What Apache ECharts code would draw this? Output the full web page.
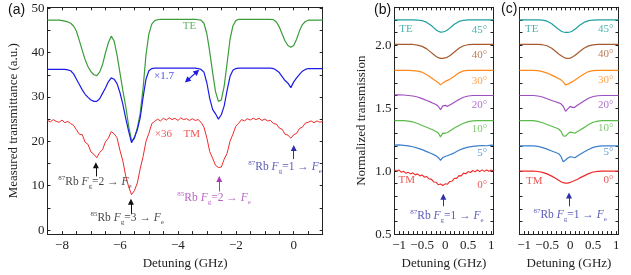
<!DOCTYPE html>
<html><head><meta charset="utf-8">
<script src="https://cdn.jsdelivr.net/npm/echarts@6/dist/echarts.min.js"></script>
<style>html,body{margin:0;padding:0;background:#fff}#c{width:631px;height:275px}</style>
</head><body><div id="c"></div>
<script>
// ---------- Panel (a) data ----------
const aX = [-8.5,-8.4,-8.3,-8.2,-8.1,-8.0,-7.9,-7.8,-7.7,-7.6,
 -7.5,-7.4,-7.3,-7.2,-7.1,-7.0,-6.9,-6.8,-6.7,-6.6,
 -6.5,-6.4,-6.3,-6.2,-6.1,-6.0,-5.9,-5.8,-5.7,-5.6,
 -5.5,-5.4,-5.3,-5.2,-5.1,-5.0,-4.9,-4.8,-4.7,-4.6,
 -4.5,-4.4,-4.3,-4.2,-4.1,-4.0,-3.9,-3.8,-3.7,-3.6,
 -3.5,-3.4,-3.3,-3.2,-3.1,-3.0,-2.9,-2.8,-2.7,-2.6,
 -2.5,-2.4,-2.3,-2.2,-2.1,-2.0,-1.9,-1.8,-1.7,-1.6,
 -1.5,-1.4,-1.3,-1.2,-1.1,-1.0,-0.9,-0.8,-0.7,-0.6,
 -0.5,-0.4,-0.3,-0.2,-0.1,0.0,0.1,0.2,0.3,0.4,
 0.5,0.6,0.7,0.8,0.9,1.0];
const aTE = [47.3,47.3,47.3,47.3,47.3,47.2,47.1,46.9,46.6,46.0,
 44.8,42.7,40.5,38.4,36.8,35.7,35.0,34.8,35.6,37.3,
 39.9,42.2,43.7,42.6,39.5,35.5,31.5,27.9,23.5,20.2,
 20.6,23.0,26.3,32.0,39.5,44.2,46.4,47.2,47.4,47.5,
 47.5,47.5,47.5,47.5,47.5,47.5,47.5,47.5,47.5,47.5,
 47.5,47.5,47.4,47.3,46.6,44.3,40.2,35.5,31.2,29.0,
 29.3,32.5,37.6,42.9,46.0,47.2,47.5,47.5,47.5,47.5,
 47.5,47.5,47.5,47.5,47.5,47.5,47.5,47.5,47.4,46.9,
 45.8,44.2,42.6,41.6,41.2,41.6,43.0,44.9,46.3,47.0,
 47.3,47.3,47.3,47.3,47.3,47.3];
const aMid = [36.2,36.2,36.2,36.2,36.2,36.2,36.2,36.1,35.9,35.2,
 34.0,32.8,31.6,30.6,29.9,29.3,29.0,29.0,29.6,30.8,
 32.0,33.4,34.3,34.0,33.0,31.0,28.4,25.2,22.3,19.7,
 20.9,22.6,25.3,29.9,34.0,35.9,36.4,36.5,36.5,36.5,
 36.5,36.5,36.5,36.5,36.5,36.5,36.5,36.5,36.5,36.5,
 36.5,36.5,36.4,36.2,35.6,33.2,29.7,27.2,26.2,25.0,
 26.0,28.0,31.5,34.6,36.0,36.4,36.5,36.5,36.5,36.5,
 36.5,36.5,36.5,36.5,36.5,36.5,36.5,36.5,36.4,36.0,
 35.5,34.6,33.7,33.1,32.1,33.4,34.3,35.1,35.8,36.2,
 36.4,36.4,36.4,36.4,36.4,36.4];
const aTM = [24.7,24.4,24.9,24.5,24.3,24.8,24.2,24.5,24.0,23.6,
 22.6,21.6,21.5,19.8,19.3,17.6,17.1,16.3,17.5,18.1,
 19.9,20.7,22.2,21.7,20.8,18.0,15.6,12.2,9.8,8.0,
 8.9,10.6,13.8,16.6,20.0,21.8,24.0,24.5,25.0,24.6,
 25.2,24.8,25.3,24.9,25.2,24.7,25.3,24.9,25.1,24.7,
 25.1,24.7,24.9,24.3,23.2,20.8,17.7,16.2,14.6,14.1,
 14.2,16.0,17.3,20.0,21.6,23.4,24.1,24.9,24.6,25.1,
 24.8,25.2,24.9,25.2,24.7,25.0,24.6,24.7,24.0,23.9,
 23.0,22.7,21.6,21.4,20.7,21.5,21.8,22.9,23.2,24.1,
 24.3,24.6,24.2,24.6,24.3,24.5];
const aXTicks = [-8.5,-8,-7.5,-7,-6.5,-6,-5.5,-5,-4.5,-4,-3.5,-3,-2.5,-2,-1.5,-1,-0.5,0,0.5,1];
const aXLabels = [-8,-6,-4,-2,0];
const aYTicks = [0,5,10,15,20,25,30,35,40,45,50];
const aYLabels = [0,10,20,30,40,50];

// ---------- Panels (b),(c) data ----------
const bX = [-1.1,-1.0,-0.9,-0.8,-0.7,-0.6,-0.5,-0.4,-0.3,-0.25,-0.2,-0.15,-0.1,-0.05,0,0.05,0.1,0.15,0.2,0.3,0.4,0.5,0.6,0.7,0.8,0.9,1.0,1.05];
const b45 = [2.200,2.200,2.200,2.200,2.200,2.199,2.195,2.180,2.155,2.139,2.122,2.110,2.103,2.104,2.110,2.120,2.135,2.150,2.165,2.188,2.197,2.200,2.200,2.200,2.200,2.200,2.200,2.200];
const b40 = [2.005,2.005,2.005,2.005,2.005,2.000,1.990,1.970,1.940,1.925,1.911,1.900,1.895,1.895,1.898,1.905,1.915,1.930,1.945,1.975,1.995,2.003,2.005,2.005,2.005,2.005,2.005,2.005];
const b30 = [1.800,1.800,1.800,1.800,1.798,1.794,1.785,1.765,1.740,1.727,1.715,1.702,1.684,1.700,1.712,1.720,1.728,1.740,1.752,1.780,1.795,1.800,1.800,1.800,1.800,1.800,1.800,1.800];
const b20 = [1.605,1.605,1.604,1.600,1.596,1.588,1.575,1.560,1.545,1.537,1.528,1.515,1.487,1.518,1.522,1.514,1.524,1.534,1.546,1.568,1.586,1.596,1.600,1.600,1.600,1.600,1.600,1.600];
const b10 = [1.400,1.400,1.400,1.396,1.390,1.378,1.362,1.348,1.332,1.324,1.314,1.302,1.272,1.302,1.300,1.306,1.318,1.330,1.342,1.362,1.380,1.393,1.398,1.400,1.400,1.400,1.400,1.400];
const b5 = [1.206,1.208,1.204,1.200,1.193,1.182,1.170,1.155,1.140,1.131,1.121,1.108,1.085,1.108,1.116,1.122,1.130,1.137,1.146,1.165,1.180,1.190,1.196,1.200,1.203,1.201,1.206,1.204];
const bX0 = [-1.1,-1.05,-1.0,-0.95,-0.9,-0.85,-0.8,-0.75,-0.7,-0.65,-0.6,-0.55,-0.5,-0.45,-0.4,-0.35,-0.3,-0.25,-0.2,-0.15,-0.1,-0.05,0,0.05,0.1,0.15,0.2,0.25,0.3,0.35,0.4,0.45,0.5,0.55,0.6,0.65,0.7,0.75,0.8,0.85,0.9,0.95,1.0,1.05];
const b0 = [1.012,1.000,1.008,0.990,0.998,0.982,0.990,0.978,0.986,0.970,0.978,0.962,0.969,0.952,0.957,0.938,0.936,0.914,0.912,0.892,0.898,0.886,0.899,0.896,0.918,0.920,0.943,0.942,0.964,0.962,0.984,0.979,0.996,0.989,1.005,0.994,1.009,0.996,1.010,0.998,1.009,0.999,1.008,1.000];
const c45 = [2.200,2.200,2.200,2.200,2.200,2.198,2.190,2.170,2.140,2.125,2.112,2.104,2.101,2.101,2.104,2.112,2.125,2.140,2.155,2.180,2.194,2.199,2.200,2.200,2.200,2.200,2.200,2.200];
const c40 = [2.005,2.005,2.005,2.005,2.005,2.003,1.995,1.975,1.945,1.930,1.917,1.905,1.897,1.895,1.897,1.905,1.917,1.932,1.947,1.975,1.994,2.002,2.005,2.005,2.005,2.005,2.005,2.005];
const c30 = [1.800,1.800,1.800,1.800,1.797,1.790,1.778,1.762,1.744,1.735,1.724,1.708,1.684,1.690,1.700,1.710,1.722,1.734,1.746,1.770,1.790,1.798,1.800,1.800,1.800,1.800,1.800,1.800];
const c20 = [1.600,1.600,1.600,1.600,1.596,1.588,1.574,1.560,1.548,1.542,1.534,1.515,1.474,1.494,1.514,1.506,1.506,1.520,1.532,1.556,1.578,1.592,1.598,1.600,1.600,1.600,1.600,1.600];
const c10 = [1.400,1.400,1.400,1.400,1.395,1.384,1.370,1.356,1.342,1.334,1.316,1.280,1.278,1.296,1.310,1.306,1.300,1.312,1.322,1.345,1.370,1.388,1.396,1.400,1.400,1.400,1.400,1.400];
const c5 = [1.200,1.200,1.200,1.200,1.196,1.186,1.174,1.160,1.146,1.138,1.116,1.074,1.088,1.104,1.113,1.112,1.106,1.118,1.130,1.152,1.172,1.188,1.196,1.200,1.200,1.200,1.200,1.200];
const c0 = [1.000,1.000,1.000,1.000,0.997,0.990,0.978,0.960,0.940,0.928,0.916,0.908,0.904,0.905,0.910,0.917,0.925,0.934,0.944,0.962,0.980,0.993,0.998,1.000,1.000,1.000,1.000,1.000];
const bXTicks = [-1.1,-1.0,-0.9,-0.8,-0.7,-0.6,-0.5,-0.4,-0.3,-0.2,-0.1,0,0.1,0.2,0.3,0.4,0.5,0.6,0.7,0.8,0.9,1.0];
const bXLabels = [-1,-0.5,0,0.5,1];
const bYTicks = [0.5,0.6,0.7,0.8,0.9,1.0,1.1,1.2,1.3,1.4,1.5,1.6,1.7,1.8,1.9,2.0,2.1,2.2,2.3];
const bYLabels = [0.5,1.0,1.5,2.0];
const angleLabels = ['45°','40°','30°','20°','10°','5°','0°'];

// ---------- styling ----------
const SERIF = '"Liberation Serif","DejaVu Serif",serif';
const SANS = '"Liberation Sans",Arial,sans-serif';
const AX = '#222';
const C = {green:'#3a9d3a', blue:'#1c1ce6', red:'#ee2a2a', mag:'#a83cb4', navy:'#2f2fa8', black:'#111',
  teal:'#1f9e9e', brown:'#a65a2e', orange:'#ff8a1c', purple:'#9e4fbf', lgreen:'#5bbb4a', lblue:'#3b7fca'};
const minus = s => String(s).replace('-', '\u2212');

function pts(xs, ys){ return xs.map((x,i)=>[x, ys[i]]); }
function axisBase(gi, min, max, pos){
  return {type:'value', gridIndex:gi, min, max, position:pos, splitLine:{show:false},
    axisLine:{show:true, onZero:false, lineStyle:{color:AX, width:1}},
    axisTick:{show:true, inside:true, length:3, lineStyle:{color:AX}},
    axisLabel:{show:false}};
}
function xBottom(gi, min, max, ticks, labels){
  const a = axisBase(gi, min, max, 'bottom');
  a.axisTick.customValues = ticks;
  a.axisLabel = {show:true, customValues:labels, margin:5, fontFamily:SERIF, fontSize:13, color:AX, formatter:v=>minus(v)};
  a.name = 'Detuning (GHz)'; a.nameLocation = 'middle'; a.nameGap = 20;
  a.nameTextStyle = {fontFamily:SERIF, fontSize:13, color:AX};
  return a;
}
function xTop(gi, min, max, ticks){ const a = axisBase(gi,min,max,'top'); a.axisTick.customValues = ticks; return a; }
function yAx(gi, min, max, ticks, labels, pos, name, gap, fmt){
  const a = axisBase(gi, min, max, pos);
  a.axisTick.customValues = ticks;
  if (labels){
    a.axisLabel = {show:true, customValues:labels, margin:3, fontFamily:SERIF, fontSize:13, color:AX, formatter:fmt};
  }
  if (name){ a.name = name; a.nameLocation='middle'; a.nameGap=gap; a.nameTextStyle={fontFamily:SERIF, fontSize:13, color:AX}; }
  return a;
}
function line(xi, xs, ys, color, w){
  return {type:'line', xAxisIndex:xi, yAxisIndex:xi, data:pts(xs,ys), showSymbol:false, symbol:'none',
    lineStyle:{color, width:w||1.2}, itemStyle:{color}, silent:true, animation:false};
}
function rich(color, fs){
  return {
    n:{fontFamily:SERIF, fontSize:fs, color, lineHeight:fs+3},
    s:{fontFamily:SERIF, fontSize:7, color, verticalAlign:'top'},
    i:{fontFamily:SERIF, fontSize:fs, fontStyle:'italic', color, lineHeight:fs+3},
    b:{fontFamily:SERIF, fontSize:7, color, verticalAlign:'bottom'}
  };
}
const trans = (iso, fg) => `{s|${iso}}{n|Rb }{i|F}{b|g}{n|=${fg} \u2192 }{i|F}{b|e}`;
function txt(x, y, text, color, align, fs){
  return {value:[x,y], label:{formatter:text, color, align:align||'center', fontSize:fs||11, fontFamily:SERIF}};
}
function rtxt(x, y, text, color){
  return {value:[x,y], label:{formatter:text, rich:rich(color,11.5), align:'center'}};
}
function arrow(x, y1, y2, color){
  return [{coord:[x,y1], symbol:'none'}, {coord:[x,y2], symbol:'triangle', lineStyle:{color, width:1}, itemStyle:{color}}];
}
function annot(xi, items, arrows){
  return {type:'scatter', xAxisIndex:xi, yAxisIndex:xi, symbolSize:0, silent:true, animation:false, z:5,
    label:{show:true, position:'inside', fontFamily:SERIF, fontSize:11},
    data:items,
    markLine:{silent:true, animation:false, symbol:['none','triangle'], symbolSize:6, label:{show:false},
      lineStyle:{type:'solid', width:1}, data:arrows}};
}

const gridA = {left:47.5, top:7.3, width:275.2, height:228.2};
const gridB = {left:394.5, top:7.3, width:99, height:228.2};
const gridC = {left:519.5, top:7.3, width:99, height:228.2};

const yaFmt = v => String(v);
const ybFmt = v => v.toFixed(1);

const option = {
  animation:false,
  grid:[gridA, gridB, gridC],
  xAxis:[
    xBottom(0,-8.5,1,aXTicks,aXLabels), xTop(0,-8.5,1,aXTicks),
    xBottom(1,-1.1,1.05,bXTicks,bXLabels), xTop(1,-1.1,1.05,bXTicks),
    xBottom(2,-1.1,1.05,bXTicks,bXLabels), xTop(2,-1.1,1.05,bXTicks)
  ],
  yAxis:[
    yAx(0,-0.9,50.2,aYTicks,aYLabels,'left','Measured transmittance (a.u.)',27,yaFmt),
    yAx(0,-0.9,50.2,aYTicks,null,'right'),
    yAx(1,0.5,2.3,bYTicks,bYLabels,'left','Normalized transmission',26,ybFmt),
    yAx(1,0.5,2.3,bYTicks,null,'right'),
    yAx(2,0.5,2.3,bYTicks,null,'left'),
    yAx(2,0.5,2.3,bYTicks,null,'right')
  ],
  series:[
    line(0, aX, aTE, C.green), line(0, aX, aMid, C.blue), line(0, aX, aTM, C.red, 1),
    line(2, bX, b45, C.teal), line(2, bX, b40, C.brown), line(2, bX, b30, C.orange),
    line(2, bX, b20, C.purple), line(2, bX, b10, C.lgreen), line(2, bX, b5, C.lblue), line(2, bX0, b0, C.red, 1.1),
    line(4, bX, c45, C.teal), line(4, bX, c40, C.brown), line(4, bX, c30, C.orange),
    line(4, bX, c20, C.purple), line(4, bX, c10, C.lgreen), line(4, bX, c5, C.lblue), line(4, bX, c0, C.red),
    annot(0, [
      txt(-3.6,45.9,'TE',C.green), txt(-4.48,34.8,'\u00d71.7',C.blue), txt(-4.5,21.6,'\u00d736',C.red), txt(-3.52,21.6,'TM',C.red),
      rtxt(-6.86,10.8,trans('87',2),C.black), rtxt(-5.75,2.7,trans('85',3),C.black),
      rtxt(-2.75,7.2,trans('85',2),C.mag), rtxt(-0.3,14.15,trans('87',1),C.navy)
    ], [
      arrow(-6.83,12.1,14.6,C.black), arrow(-5.62,3.7,6.4,C.black), arrow(-2.57,8.7,11.5,C.mag), arrow(0.0,16.0,18.5,C.navy),
      [{coord:[-3.68,33.7], symbol:'triangle'}, {coord:[-3.34,35.7], symbol:'triangle', lineStyle:{color:C.blue,width:1.2}, itemStyle:{color:C.blue}}]
    ]),
    annot(2, [
      txt(-0.85,2.127,'TE',C.teal),
      txt(0.91,2.122,angleLabels[0],C.teal,'right'), txt(0.91,1.917,angleLabels[1],C.brown,'right'),
      txt(0.91,1.716,angleLabels[2],C.orange,'right'), txt(0.91,1.525,angleLabels[3],C.purple,'right'),
      txt(0.91,1.336,angleLabels[4],C.lgreen,'right'), txt(0.91,1.140,angleLabels[5],C.lblue,'right'),
      txt(0.91,0.891,angleLabels[6],C.red,'right'), txt(-0.835,0.925,'TM',C.red),
      rtxt(0.04,0.643,trans('87',1),C.navy)
    ], [arrow(-0.04,0.721,0.797,C.navy)]),
    annot(4, [
      txt(-0.835,2.127,'TE',C.teal),
      txt(0.94,2.127,angleLabels[0],C.teal,'right'), txt(0.94,1.925,angleLabels[1],C.brown,'right'),
      txt(0.94,1.72,angleLabels[2],C.orange,'right'), txt(0.94,1.525,angleLabels[3],C.purple,'right'),
      txt(0.94,1.343,angleLabels[4],C.lgreen,'right'), txt(0.94,1.153,angleLabels[5],C.lblue,'right'),
      txt(0.94,0.93,angleLabels[6],C.red,'right'), txt(-0.78,0.922,'TM',C.red),
      rtxt(0.0,0.65,trans('87',1),C.navy)
    ], [arrow(-0.025,0.721,0.807,C.navy)])
  ],
  graphic:[
    {type:'text', left:8, top:3, style:{text:'(a)', font:'14px '+SANS, fill:'#111'}},
    {type:'text', left:374, top:3, style:{text:'(b)', font:'14px '+SANS, fill:'#111'}},
    {type:'text', left:501, top:2, style:{text:'(c)', font:'14px '+SANS, fill:'#111'}}
  ]
};
const chart = echarts.init(document.getElementById('c'), null, {renderer:'canvas'});
chart.setOption(option);
</script></body></html>
